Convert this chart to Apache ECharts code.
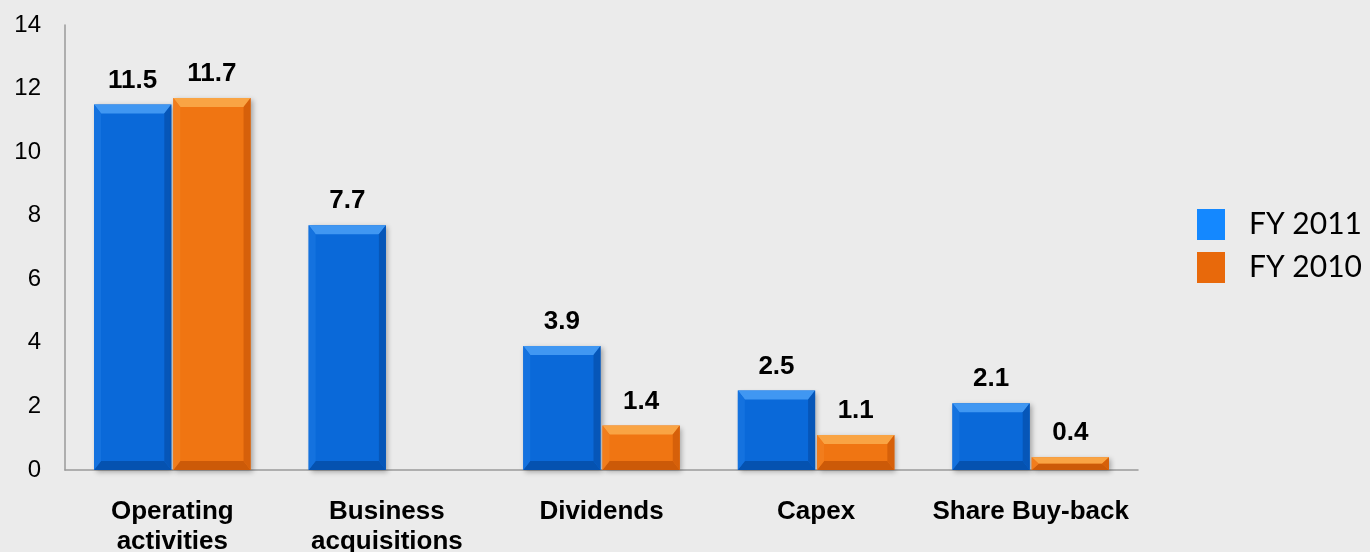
<!DOCTYPE html>
<html>
<head>
<meta charset="utf-8">
<title>Cash flow FY 2011 vs FY 2010</title>
<script src="https://cdn.jsdelivr.net/npm/echarts@6/dist/echarts.min.js"></script>
<style>
  html, body { margin: 0; padding: 0; background: #ebebeb; }
  #chart { width: 1370px; height: 552px; }
</style>
</head>
<body>
<div id="chart"></div>
<script>
// data
const categories = ['Operating\nactivities', 'Business\nacquisitions', 'Dividends', 'Capex', 'Share Buy-back'];
const fy2011 = [11.5, 7.7, 3.9, 2.5, 2.1];
const fy2010 = [11.7, null, 1.4, 1.1, 0.4];
const yTicks = [0, 2, 4, 6, 8, 10, 12, 14];

// bevel colours: face, top, left, right, bottom
const blueTone = { face: '#0a69d9', top: '#4097f2', left: '#1472df', right: '#0656b8', bottom: '#0552b0' };
const orangeTone = { face: '#f07512', top: '#f9a444', left: '#f27d1c', right: '#d6600a', bottom: '#cc5a08' };

function bevelBar(tone, side) {
  return function (params, api) {
    const idx = api.value(0);
    const val = api.value(1);
    if (val == null || isNaN(val)) return;
    const base = api.coord([idx, 0]);
    const top = api.coord([idx, val]);
    const band = api.size([1, 0])[0];
    const w = band * 0.36;
    const cx = base[0];
    const x0 = side < 0 ? cx - 1 - w : cx + 1;
    const x1 = x0 + w;
    const y0 = top[1];
    const y1 = base[1];
    const h = y1 - y0;
    const b = Math.min(9, h / 2);
    const s = Math.min(7, w / 2);
    return {
      type: 'group',
      children: [
        { type: 'rect', shape: { x: x0, y: y0, width: w, height: h },
          style: { fill: tone.face, shadowBlur: 5, shadowOffsetX: 2, shadowOffsetY: 2, shadowColor: 'rgba(0,0,0,0.3)' } },
        { type: 'polygon', shape: { points: [[x0, y0], [x1, y0], [x1 - s, y0 + b], [x0 + s, y0 + b]] }, style: { fill: tone.top } },
        { type: 'polygon', shape: { points: [[x0, y1], [x1, y1], [x1 - s, y1 - b], [x0 + s, y1 - b]] }, style: { fill: tone.bottom } },
        { type: 'polygon', shape: { points: [[x0, y0], [x0 + s, y0 + b], [x0 + s, y1 - b], [x0, y1]] }, style: { fill: tone.left } },
        { type: 'polygon', shape: { points: [[x1, y0], [x1 - s, y0 + b], [x1 - s, y1 - b], [x1, y1]] }, style: { fill: tone.right } },
        { type: 'text', style: { text: val.toFixed(1), x: (x0 + x1) / 2, y: y0 - 11, align: 'center', verticalAlign: 'bottom',
          font: 'bold 26px "Liberation Sans", Arial, sans-serif', fill: '#000' } }
      ]
    };
  };
}

const chart = echarts.init(document.getElementById('chart'));
chart.setOption({
  backgroundColor: '#ebebeb',
  animation: false,
  grid: { left: 65, top: 25, right: 232, bottom: 82, outerBoundsMode: 'none', containLabel: false },
  legend: {
    orient: 'vertical',
    left: 1192,
    top: 204,
    itemWidth: 28,
    itemHeight: 31,
    itemGap: 12,
    icon: 'rect',
    textStyle: { fontFamily: 'Lato', fontSize: 30, color: '#000', padding: [0, 0, 0, 19] },
    data: [
      { name: 'FY 2011', itemStyle: { color: '#1488ff' } },
      { name: 'FY 2010', itemStyle: { color: '#e8690b' } }
    ]
  },
  xAxis: {
    type: 'category',
    data: categories,
    axisLine: { lineStyle: { color: '#9a9a9a', width: 1.5 } },
    axisTick: { show: false },
    axisLabel: {
      margin: 27,
      fontFamily: '"Liberation Sans", Arial, sans-serif',
      fontWeight: 'bold',
      fontSize: 26,
      lineHeight: 30,
      color: '#000',
      interval: 0
    }
  },
  yAxis: {
    type: 'value',
    min: yTicks[0],
    max: yTicks[yTicks.length - 1],
    interval: 2,
    axisLine: { show: true, lineStyle: { color: '#9a9a9a', width: 1.5 } },
    axisTick: { show: false },
    splitLine: { show: false },
    axisLabel: {
      margin: 24,
      fontFamily: '"Liberation Sans", Arial, sans-serif',
      fontSize: 24,
      color: '#000'
    }
  },
  series: [
    {
      name: 'FY 2011',
      type: 'custom',
      renderItem: bevelBar(blueTone, -1),
      data: fy2011.map((v, i) => [i, v]),
      itemStyle: { color: '#1488ff' }
    },
    {
      name: 'FY 2010',
      type: 'custom',
      renderItem: bevelBar(orangeTone, 1),
      data: fy2010.map((v, i) => [i, v == null ? NaN : v]),
      itemStyle: { color: '#e8690b' }
    }
  ]
});
</script>
</body>
</html>
